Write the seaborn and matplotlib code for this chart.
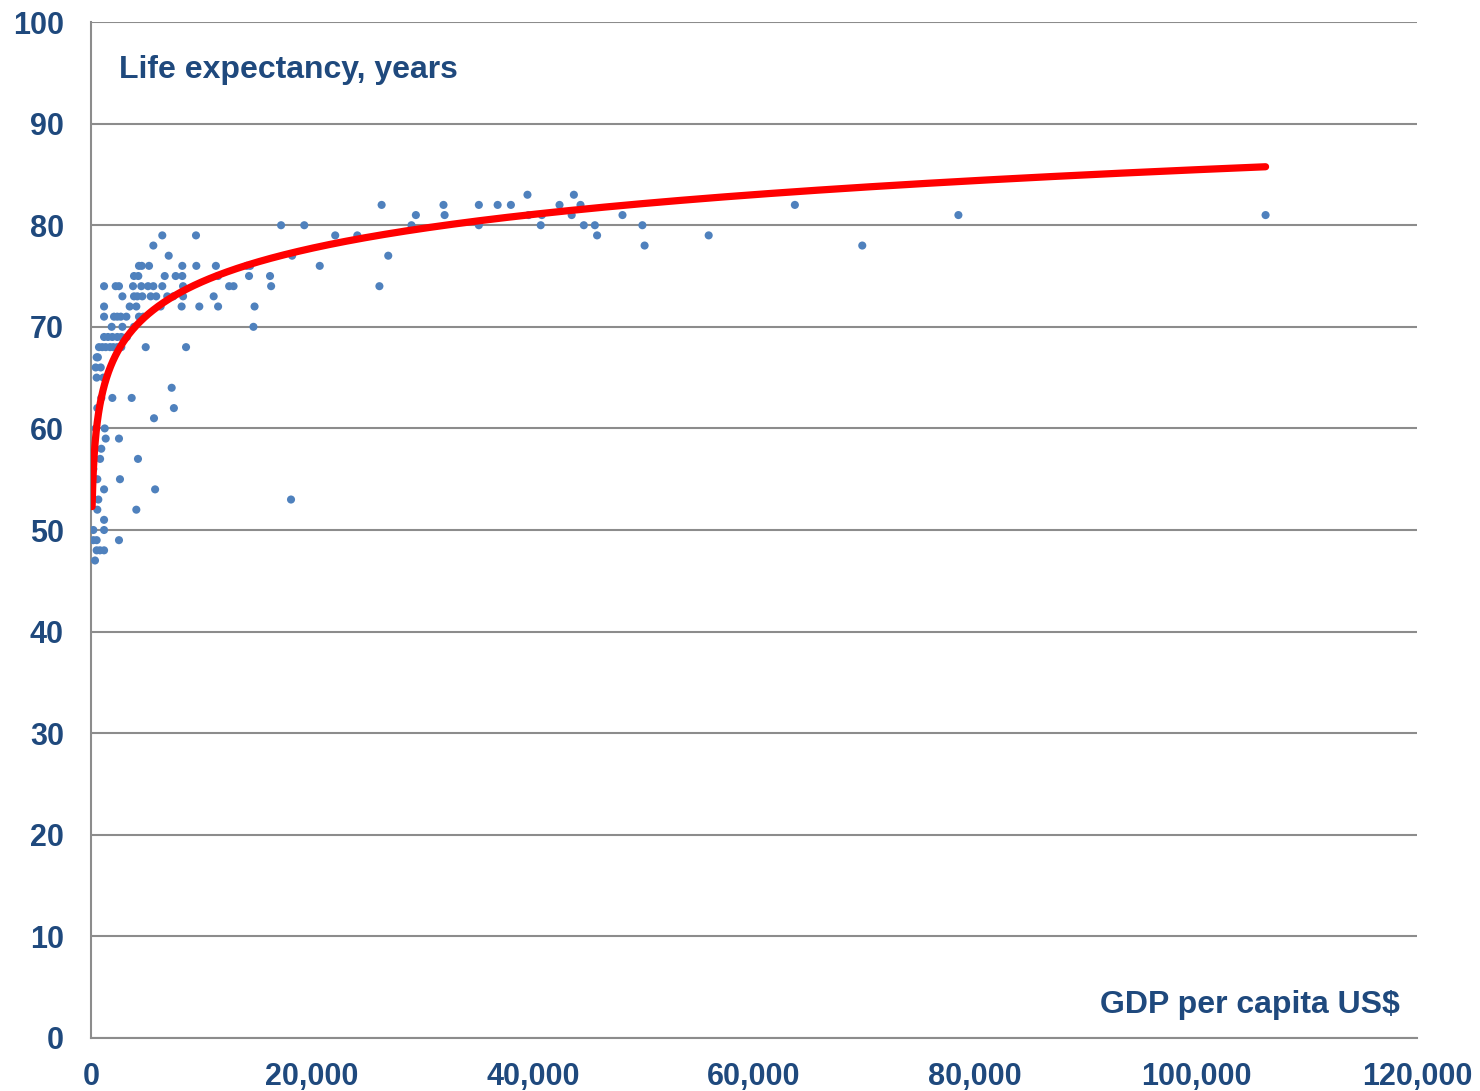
import numpy as np
import pandas as pd
import matplotlib
matplotlib.use("Agg")
import matplotlib.pyplot as plt
from matplotlib.ticker import FuncFormatter, MultipleLocator
import seaborn as sns

# GDP per capita (US$) grouped by life expectancy (years)
life_levels = [83, 82, 81, 80, 79, 78, 77, 76, 75, 74, 73, 72, 71, 70, 69, 68,
               67, 66, 65, 64, 63, 62, 61, 60, 59, 58, 57, 56, 55, 54, 53, 52,
               51, 50, 49, 48, 47]
gdp_by_level = [
    [39500, 43700],
    [26300, 31900, 35100, 36800, 38000, 42400, 44300, 63700],
    [29400, 32000, 39600, 40800, 43500, 48100, 78500, 106300],
    [17200, 19300, 29000, 35100, 40700, 44600, 45600, 49900],
    [6450, 9500, 22100, 24100, 45800, 55900],
    [5640, 50100, 69800],
    [7030, 18200, 26900],
    [4340, 4590, 5250, 8260, 9530, 11300, 14100, 14400, 20700],
    [3890, 4280, 6670, 7660, 8260, 11500, 14300, 16200],
    [1180, 2230, 2530, 3800, 4550, 5160, 5640, 6450, 8330, 12500, 12900, 16300, 26100],
    [2840, 3890, 4190, 4640, 5400, 5900, 6900, 7450, 8330, 11100],
    [1180, 3500, 4100, 6300, 8200, 9800, 11500, 14800],
    [1180, 2080, 2380, 2690, 3200, 4340, 4730],
    [1870, 2840, 3890, 14700],
    [1180, 1540, 1930, 2380, 2740, 3250],
    [720, 1020, 1330, 1720, 2020, 2380, 2740, 4950, 8600],
    [510, 620],
    [420, 880],
    [510, 1110],
    [7300],
    [930, 1930, 3680],
    [570, 7500],
    [5700],
    [420, 1240],
    [1330, 2530],
    [930],
    [820, 4250],
    [210],
    [570, 2620],
    [1180, 5800],
    [660, 18100],
    [570, 4100],
    [1180],
    [210, 1180],
    [210, 510, 2530],
    [510, 810, 1180],
    [360],
]

# Logarithmic trend line: life = slope * ln(gdp) + intercept
trend_slope = 4.8
trend_intercept = 30.2
trend_gdp_range = [100, 106300]

gdp = []
life = []
for level, xs in zip(life_levels, gdp_by_level):
    gdp.extend(xs)
    life.extend([level] * len(xs))
df = pd.DataFrame({"gdp": gdp, "life": life})

trend_x = np.geomspace(trend_gdp_range[0], trend_gdp_range[1], 800)
trend = pd.DataFrame({"gdp": trend_x,
                      "life": trend_slope * np.log(trend_x) + trend_intercept})

TEXT = "#1F497D"
GRID = "#8C8C8C"
DOT = "#4F81BD"

sns.set_theme(style="white")
plt.rcParams["font.family"] = ["Liberation Sans", "DejaVu Sans"]

fig = plt.figure(figsize=(14.8, 10.91), dpi=100)
ax = fig.add_axes([0.0615, 0.0486, 0.8959, 0.9312])

sns.scatterplot(data=df, x="gdp", y="life", ax=ax, color=DOT, s=34,
                edgecolor="none", zorder=3, legend=False)
sns.lineplot(data=trend, x="gdp", y="life", ax=ax, color="#FF0000",
             linewidth=5.2, sort=False, zorder=4, legend=False)
ax.lines[-1].set_solid_capstyle("round")

ax.set_xlim(0, 120000)
ax.set_ylim(0, 100)
ax.xaxis.set_major_locator(MultipleLocator(20000))
ax.yaxis.set_major_locator(MultipleLocator(10))
ax.xaxis.set_major_formatter(FuncFormatter(lambda v, p: f"{int(v):,}"))

ax.grid(axis="y", color=GRID, linewidth=1.5)
ax.grid(axis="x", visible=False)
for side in ["top", "right"]:
    ax.spines[side].set_visible(False)
for side in ["left", "bottom"]:
    ax.spines[side].set_color(GRID)
    ax.spines[side].set_linewidth(1.5)

ax.tick_params(axis="both", which="major", direction="out", length=6.5,
               width=1.5, color=GRID, labelsize=22, labelcolor=TEXT)
ax.tick_params(axis="y", pad=13)
ax.tick_params(axis="x", pad=11)
for lab in ax.get_xticklabels() + ax.get_yticklabels():
    lab.set_fontweight("bold")

ax.set_xlabel("")
ax.set_ylabel("")

ax.text(0.021, 0.953, "Life expectancy, years", transform=ax.transAxes,
        fontsize=23, fontweight="bold", color=TEXT, ha="left", va="center")
ax.text(0.987, 0.032, "GDP per capita US$", transform=ax.transAxes,
        fontsize=23, fontweight="bold", color=TEXT, ha="right", va="center")

fig.savefig("out.png", dpi=100)
